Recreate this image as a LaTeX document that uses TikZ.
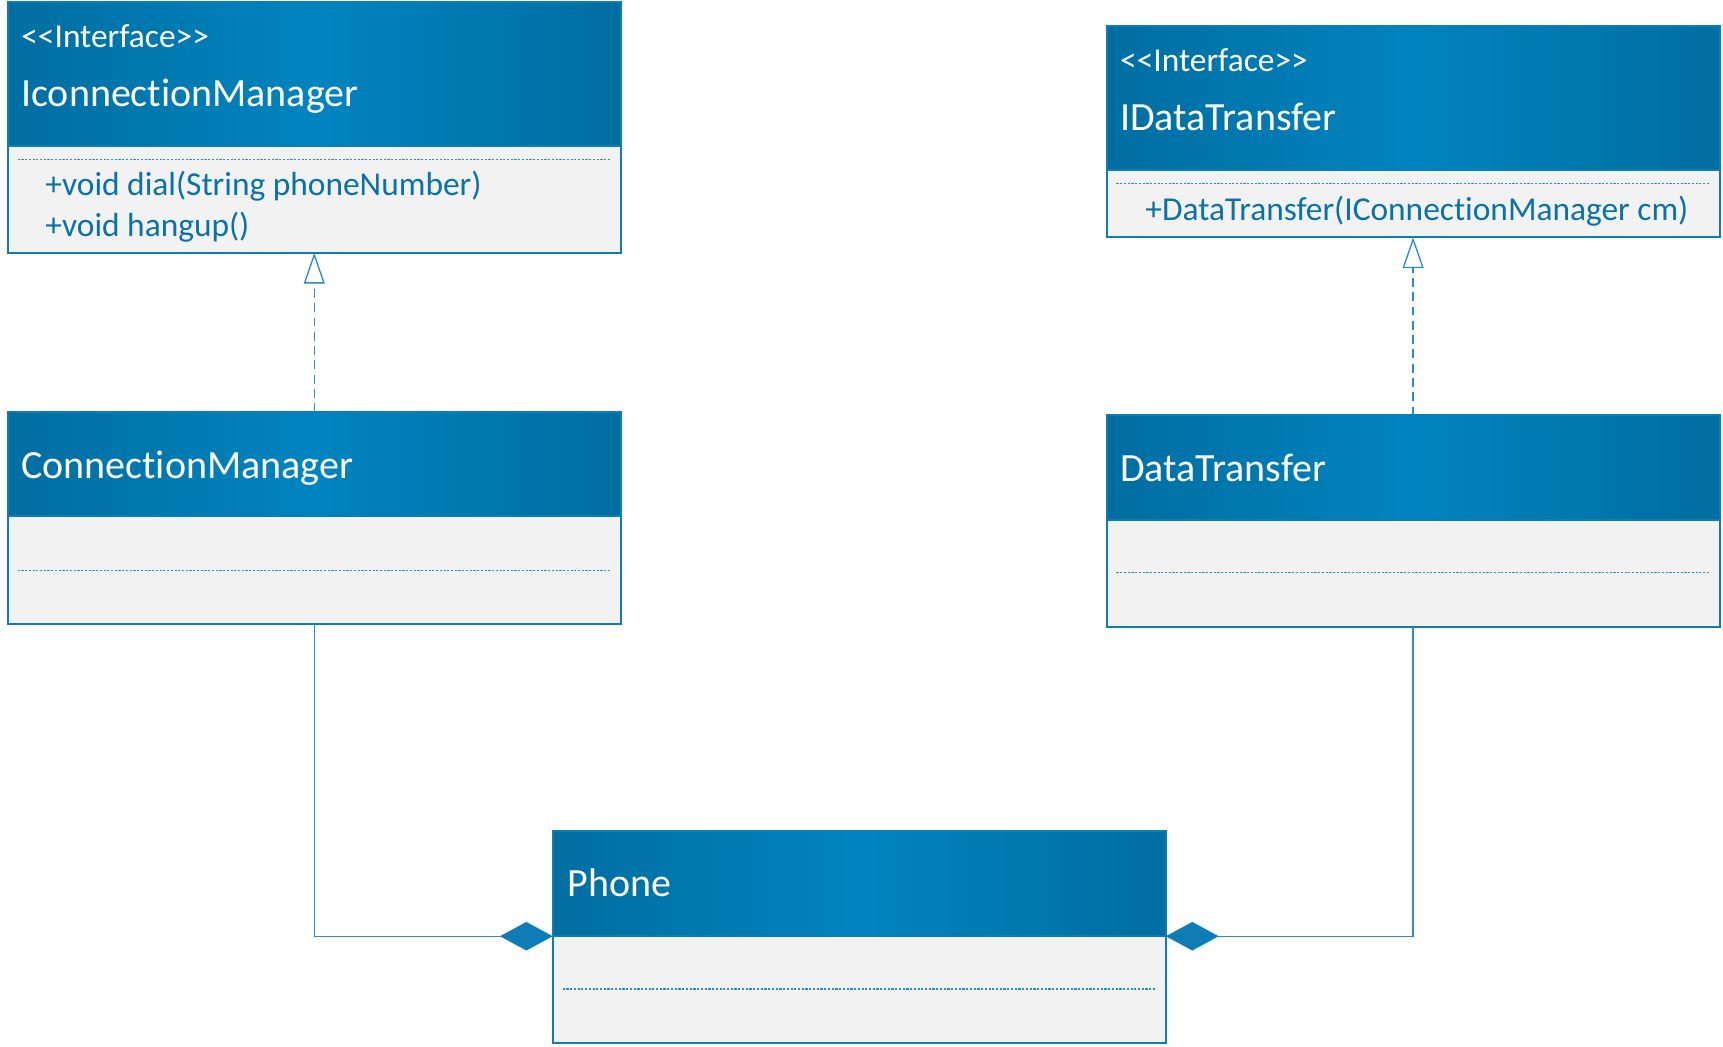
\documentclass[tikz,border=0pt]{standalone}
\usepackage{fontspec}
\setmainfont{Carlito}[Ligatures={TeXOff,NoCommon}]
\usetikzlibrary{arrows.meta}
\definecolor{hdark}{HTML}{006EA1}
\definecolor{hlight}{HTML}{0084BF}
\definecolor{bfill}{HTML}{F2F2F2}
\definecolor{bord}{HTML}{0F7DB5}
\definecolor{txtb}{HTML}{0A72A8}
\definecolor{lnc}{HTML}{2A8DC3}
\tikzset{
 hdr/.style={rectangle, inner sep=0pt, outer sep=0pt, anchor=north west, minimum width=279pt,
   left color=hdark, right color=hdark, middle color=hlight, draw=bord, line width=0.9pt},
 bdy/.style={rectangle, inner sep=0pt, outer sep=0pt, anchor=north west, minimum width=279pt,
   fill=bfill, draw=bord, line width=0.9pt},
 ttl/.style={anchor=base west, inner sep=0pt, text=white, font=\fontsize{18.2}{20}\selectfont},
 stereo/.style={anchor=base west, inner sep=0pt, text=white, font=\fontsize{15.2}{18}\selectfont},
 meth/.style={anchor=base west, inner sep=0pt, text=txtb, font=\fontsize{15.2}{18}\selectfont},
 sepline/.style={draw=lnc, line width=0.6pt, dash pattern=on 1pt off 0.7pt},
 realize/.style={draw=lnc, line width=0.6pt, dash pattern=on 4pt off 2.5pt,
   -{Triangle[open, length=14pt, width=9.5pt, fill=white]}},
 comp/.style={draw=lnc, line width=0.6pt, -{Diamond[length=24pt, width=13pt, color=bord, fill=bord]}},
}
\begin{document}
\begin{tikzpicture}[x=0.5pt,y=-0.5pt]
\useasboundingbox (0,0) rectangle (1568,952);
% IconnectionManager
\node[hdr, minimum height=65.5pt] (icmh) at (7,2) {};
\node[bdy, minimum height=48.5pt] (icmb) at (7,133) {};
\node[stereo] (icms) at (19,43) {<<Interface>>};
\node[ttl] (icmt) at (19,97) {IconnectionManager};
\draw[sepline] (16,145) -- (555,145);
\node[meth] (icm1) at (41,178) {+void dial(String phoneNumber)};
\node[meth] (icm2) at (41,215) {+void hangup()};
% IDataTransfer
\node[hdr, minimum height=65.5pt] (idth) at (1007,24) {};
\node[bdy, minimum height=30.5pt] (idtb) at (1007,155) {};
\node[stereo] (idts) at (1019,65) {<<Interface>>};
\node[ttl] (idtt) at (1019,119) {IDataTransfer};
\draw[sepline] (1016,167) -- (1555,167);
\node[meth] (idt1) at (1042,201) {+DataTransfer(IConnectionManager cm)};
% ConnectionManager
\node[hdr, minimum height=47.5pt] (cmh) at (7,375) {};
\node[bdy, minimum height=49pt] (cmb) at (7,470) {};
\node[ttl] (cmt) at (19,435) {ConnectionManager};
\draw[sepline] (16,519) -- (555,519);
% DataTransfer
\node[hdr, minimum height=47.5pt] (dth) at (1007,378) {};
\node[bdy, minimum height=49pt] (dtb) at (1007,473) {};
\node[ttl] (dtt) at (1019,438) {DataTransfer};
\draw[sepline] (1016,521) -- (1555,521);
% Phone
\node[hdr, minimum height=48pt] (phh) at (503,756) {};
\node[bdy, minimum height=48.5pt] (phb) at (503,852) {};
\node[ttl] (pht) at (516,816) {Phone};
\draw[sepline] (512,900) -- (1052,900);
% connectors
\draw[realize] (cmh.north) -- (icmb.south);
\draw[realize] (dth.north) -- (idtb.south);
\draw[comp] (cmb.south) |- (phb.north west);
\draw[comp] (dtb.south) |- (phb.north east);
\end{tikzpicture}
\end{document}
